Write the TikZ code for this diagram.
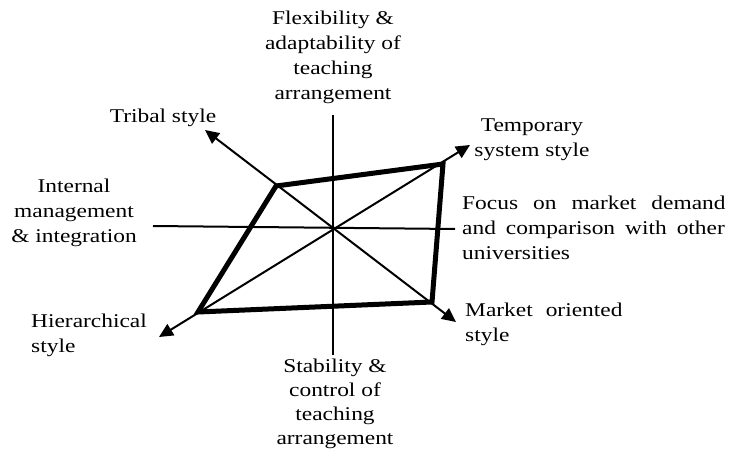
\documentclass[tikz,border=0pt]{standalone}
\usepackage{fontspec}
\setmainfont[FakeStretch=1.2]{Liberation Serif}
\usetikzlibrary{arrows.meta}
\begin{document}
\begin{tikzpicture}[x=1pt,y=-1pt,
  lbl/.style={inner sep=0pt, font=\fontsize{19.5}{25}\selectfont},
  axisline/.style={line width=2pt},
  diag/.style={line width=2pt, {Triangle[length=14pt,width=13pt]}-{Triangle[length=14pt,width=13pt]}},
  quad/.style={line width=5pt, line join=miter}]
\useasboundingbox (0,0) rectangle (729,452);
% axes
\coordinate (vt) at (333,115);
\coordinate (vb) at (333,355);
\coordinate (hl) at (153,226);
\coordinate (hr) at (455,229);
% diagonal tips
\coordinate (tribal) at (205,130);
\coordinate (market) at (456,322);
\coordinate (temp) at (470,145);
\coordinate (hier) at (159,337);
% quadrilateral vertices
\coordinate (qT) at (276,186);
\coordinate (qTm) at (443,164);
\coordinate (qM) at (432,302);
\coordinate (qH) at (198,312);

\draw[axisline] (vt) -- (vb);
\draw[axisline] (hl) -- (hr);
\draw[diag] (tribal) -- (market);
\draw[diag] (hier) -- (temp);
\draw[quad] (qT) -- (qTm) -- (qM) -- (qH) -- cycle;

% labels
\node[lbl, align=center] (ltop) at (333,57) {Flexibility \&\\adaptability of\\teaching\\arrangement};
\node[lbl] (ltribal) at (163,118) {Tribal style};
\node[lbl, align=center] (ltemp) at (532,140) {Temporary\\system style};
\node[lbl, align=center] (lint) at (74,213) {Internal\\management\\\& integration};
\node[lbl, align=left, anchor=west] (lfocus) at (462,228) {{\spaceskip=15pt Focus on market demand}\\{\spaceskip=10pt and comparison with other}\\universities};
\node[lbl, align=left, anchor=west] (lhier) at (31,335) {Hierarchical\\style};
\node[lbl, align=left, anchor=west] (lmarket) at (465,324) {{\spaceskip=13pt Market oriented}\\style};
\node[lbl, align=center, font=\fontsize{19.5}{24}\selectfont] (lbot) at (335,404) {Stability \&\\control of\\teaching\\arrangement};
\end{tikzpicture}
\end{document}
